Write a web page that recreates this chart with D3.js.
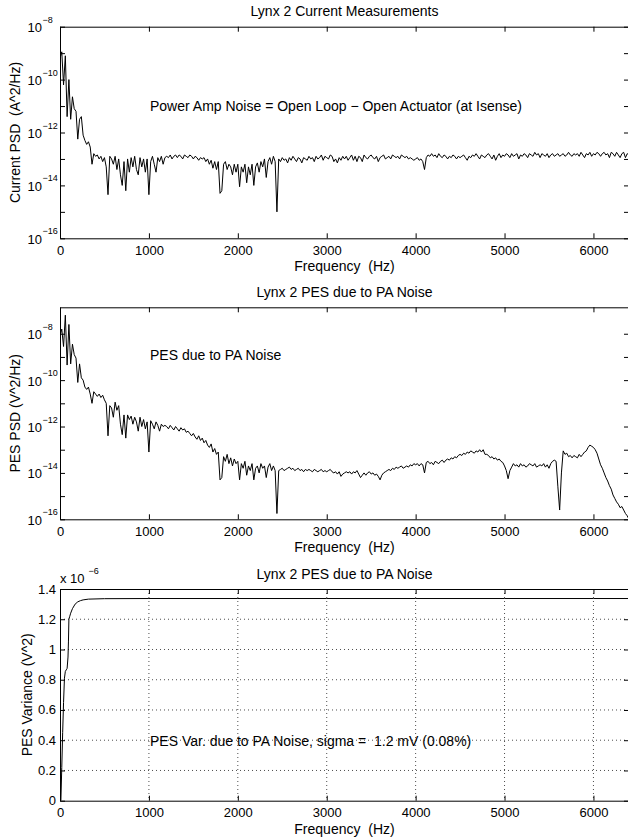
<!DOCTYPE html>
<html>
<head>
<meta charset="utf-8">
<script src="https://cdnjs.cloudflare.com/ajax/libs/d3/7.8.5/d3.min.js"></script>
<style>
  body { margin: 0; background: #fff; }
  svg text { font-family: "Liberation Sans", Arial, sans-serif; fill: #000; }
  .tick text { font-size: 13px; }
  .lbl { font-size: 14px; white-space: pre; }
  .sup { font-size: 9px; }
  .domain, .tick line { stroke: #000; }
</style>
</head>
<body>
<div id="chart"></div>
<script>
// ---- data ----
// PSD traces sampled every 20 Hz from 0 to 6400 Hz, stored as log10 of the value
var freqStep = 20;

// Current PSD (A^2/Hz), log10
var currentPsdExp = [
  -9.2, -8.95, -10.2, -9.1, -11.4, -10.0, -11.5, -10.65, -11.1, -11.2, -12.25, -11.5, -11.4, -12.1, -12.3, -12.45, -12.35, -12.55, -13.2, -12.8,
  -12.9, -12.85, -13.0, -12.9, -13.1, -12.95, -13.3, -14.35, -12.9, -13.0, -13.2, -12.9, -13.4, -13.0, -13.6, -14.0, -13.1, -14.2, -13.0, -13.5,
  -12.95, -13.3, -12.9, -13.4, -13.6, -12.95, -13.3, -13.0, -13.5, -13.0, -14.35, -13.1, -12.9, -13.2, -13.5, -12.95, -13.1, -12.9, -13.2, -12.95,
  -12.9, -12.95, -12.85, -13.0, -12.9, -12.85, -12.95, -12.85, -12.9, -13.0, -12.85, -12.9, -12.95, -12.85, -12.9, -13.0, -12.9, -12.95, -13.05, -12.95,
  -13.0, -12.95, -13.1, -13.0, -13.2, -13.05, -13.35, -13.1, -13.4, -13.1, -14.3, -14.2, -13.2, -13.1, -13.4, -13.2, -13.3, -13.6, -13.2, -13.5,
  -13.2, -14.05, -13.3, -13.5, -13.2, -13.9, -13.3, -13.6, -13.2, -14.0, -13.3, -13.15, -13.5, -13.1, -13.3, -13.0, -13.7, -13.1, -12.95, -13.2,
  -12.9, -13.1, -15.0, -13.0, -13.1, -12.95, -13.05, -13.0, -13.15, -12.95, -13.05, -12.9, -13.0, -13.1, -12.95, -13.0, -13.15, -12.95, -13.0, -13.05,
  -12.9, -13.0, -12.95, -13.1, -12.9, -13.0, -12.95, -12.85, -13.05, -12.9, -12.95, -13.0, -12.85, -12.9, -13.1, -13.0, -13.15, -12.95, -13.05, -12.9,
  -13.0, -12.9, -13.05, -12.95, -12.85, -13.05, -12.9, -13.1, -12.9, -12.95, -13.1, -12.85, -12.95, -13.0, -12.9, -12.85, -12.95, -13.0, -12.9, -13.1,
  -12.95, -12.9, -12.85, -13.0, -12.95, -12.9, -13.0, -12.85, -12.9, -12.95, -12.9, -13.0, -12.85, -12.9, -12.95, -12.9, -13.0, -12.95, -13.0, -13.05,
  -13.0, -12.95, -13.05, -13.0, -13.1, -13.4, -12.95, -12.85, -12.9, -12.8, -12.9, -12.85, -12.95, -12.8, -12.9, -12.95, -12.85, -12.9, -13.0, -12.9,
  -12.95, -12.85, -12.9, -13.0, -12.9, -12.95, -12.9, -12.85, -12.95, -13.05, -12.9, -12.95, -12.85, -12.9, -12.8, -12.9, -13.0, -12.85, -12.9, -12.95,
  -12.85, -12.8, -12.9, -13.0, -12.85, -13.05, -12.9, -12.8, -12.95, -12.85, -12.9, -12.8, -12.85, -12.95, -12.8, -12.9, -12.85, -12.8, -13.0, -12.85,
  -12.9, -12.8, -12.85, -12.95, -12.8, -12.85, -12.9, -12.75, -12.85, -12.8, -12.95, -12.8, -12.85, -12.9, -12.8, -12.95, -12.85, -12.8, -12.9, -12.85,
  -12.8, -12.9, -12.85, -12.8, -12.9, -12.85, -12.75, -12.85, -12.9, -12.8, -12.85, -12.8, -12.9, -12.75, -12.85, -12.95, -12.8, -12.85, -12.75, -12.9,
  -12.8, -12.85, -12.75, -12.8, -12.9, -12.8, -12.75, -12.85, -12.8, -12.95, -12.75, -12.8, -12.9, -12.75, -12.85, -12.95, -12.8, -12.75, -12.95, -12.8,
  -12.85
];

// PES PSD (V^2/Hz), log10
var pesPsdExp = [
  -8.1, -7.8, -8.55, -7.2, -9.35, -7.6, -9.3, -8.45, -8.9, -9.05, -10.1, -9.3, -9.9, -10.0, -10.3, -10.4, -10.3, -10.6, -11.0, -10.5,
  -10.6, -10.7, -10.6, -10.75, -10.65, -10.85, -11.0, -12.4, -11.1, -11.2, -11.6, -10.95, -11.3, -11.1, -11.9, -12.35, -11.5, -12.5, -11.5, -11.7,
  -11.55, -11.9, -11.6, -11.8, -12.2, -11.6, -12.0, -11.7, -12.1, -11.8, -13.1, -11.75, -11.9, -12.1, -11.8, -11.95, -12.2, -11.9, -12.0, -11.95,
  -12.0, -12.1, -11.95, -12.05, -12.15, -12.0, -12.1, -12.2, -12.05, -12.15, -12.1, -12.25, -12.2, -12.3, -12.4, -12.3, -12.45, -12.55, -12.4, -12.6,
  -12.5, -12.7, -12.6, -12.8, -12.9, -12.75, -13.1, -12.95, -13.2, -13.1, -14.3, -14.2, -13.3, -13.5, -13.2, -13.6, -13.35, -13.7, -13.4, -13.6,
  -13.5, -14.3, -13.6, -13.8, -13.5, -14.1, -13.7, -13.9, -13.6, -14.3, -13.8, -13.7, -14.0, -13.6, -13.8, -13.7, -14.2, -13.75, -13.6, -13.9,
  -13.7, -13.9, -15.75, -13.9, -13.85, -13.8, -13.9, -13.85, -13.8, -13.75, -13.85, -13.8, -13.9, -13.85, -13.8, -13.9, -13.85, -13.95, -13.85, -13.9,
  -13.85, -13.9, -13.95, -13.85, -13.9, -13.95, -13.9, -13.85, -13.95, -13.9, -13.95, -13.9, -13.85, -13.95, -14.0, -13.95, -14.05, -13.95, -14.15, -14.05,
  -14.0, -13.95, -14.0, -13.95, -14.05, -13.95, -14.0, -13.9, -14.05, -14.2, -14.1, -14.0, -14.1, -14.0, -13.95, -14.05, -14.0, -14.1, -14.05, -14.15,
  -14.3, -14.1, -14.0, -13.95, -13.9, -13.85, -13.9, -13.8, -13.85, -13.75, -13.8, -13.75, -13.7, -13.8, -13.75, -13.7, -13.75, -13.65, -13.7, -13.6,
  -13.65, -13.6, -13.7, -13.6, -13.65, -14.0, -13.55, -13.5, -13.6, -13.55, -13.65, -13.5, -13.55, -13.6, -13.5, -13.45, -13.55, -13.45, -13.4, -13.45,
  -13.35, -13.4, -13.3, -13.35, -13.25, -13.2, -13.25, -13.15, -13.2, -13.1, -13.15, -13.05, -13.1, -13.15, -13.05, -13.1, -13.0, -13.1, -13.0, -13.2,
  -13.2, -13.25, -13.35, -13.3, -13.4, -13.35, -13.45, -13.4, -13.5, -13.55, -13.7, -13.9, -14.25, -13.9, -13.75, -13.6, -13.7, -13.65, -13.75, -13.6,
  -13.7, -13.65, -13.75, -13.7, -13.6, -13.65, -13.7, -13.6, -13.75, -13.7, -13.65, -13.7, -13.6, -13.75, -13.65, -13.8, -13.6, -13.5, -13.45, -13.5,
  -14.6, -15.6, -14.0, -13.05, -13.2, -13.15, -13.3, -13.25, -13.35, -13.25, -13.3, -13.35, -13.2, -13.3, -13.2, -13.1, -13.05, -12.9, -12.8, -12.85,
  -12.9, -13.0, -13.15, -13.4, -13.65, -13.8, -14.0, -14.2, -14.35, -14.55, -14.7, -14.95, -15.1, -15.25, -15.35, -15.5, -15.45, -15.6, -15.75, -15.85,
  -16.0
];

// cumulative PES variance, in units of 1e-6 V^2
var varFreq = [0, 10, 20, 30, 40, 50, 60, 70, 80, 90, 95, 100, 110, 120, 140, 170, 200, 230, 260, 320, 500, 1000, 2000, 3000, 4000, 5000, 6000, 6400];
var varValue = [0, 0, 0.22, 0.45, 0.65, 0.81, 0.855, 0.865, 0.875, 0.95, 1.05, 1.2, 1.22, 1.24, 1.27, 1.3, 1.315, 1.323, 1.328, 1.333, 1.336, 1.337, 1.337, 1.337, 1.337, 1.337, 1.337, 1.337];

var freqTicks = [0, 1000, 2000, 3000, 4000, 5000, 6000];
var decadeTicks = [-16, -15, -14, -13, -12, -11, -10, -9, -8];
var varTicks = [0, 0.2, 0.4, 0.6, 0.8, 1.0, 1.2, 1.4];
var varTickLabels = ["0", "0.2", "0.4", "0.6", "0.8", "1", "1.2", "1.4"];

var titles = ["Lynx 2 Current Measurements", "Lynx 2 PES due to PA Noise", "Lynx 2 PES due to PA Noise"];
var yLabels = ["Current PSD  (A^2/Hz)", "PES PSD (V^2/Hz)", "PES Variance (V^2)"];
var notes = ["Power Amp Noise = Open Loop \u2212 Open Actuator (at Isense)", "PES due to PA Noise",
  "PES Var. due to PA Noise, sigma =  1.2 mV (0.08%)"];

// ---- layout ----
var W = 628, H = 839;
var left = 60, right = 629;

var svg = d3.select("#chart")
  .append("svg")
  .attr("width", W)
  .attr("height", H);

var x = d3.scaleLinear()
  .domain([0, 6400])
  .range([left, right]);

var freqs = currentPsdExp.map(function(d, i) { return i * freqStep; });

function frame(g, y, top, bottom, yTicks) {
  g.append("g")
    .attr("transform", "translate(0," + bottom + ")")
    .call(d3.axisBottom(x).tickValues(freqTicks).tickSize(-5).tickSizeOuter(0).tickPadding(7).tickFormat(d3.format("d")));
  g.append("g")
    .attr("transform", "translate(0," + top + ")")
    .call(d3.axisTop(x).tickValues(freqTicks).tickSize(-5).tickSizeOuter(0).tickFormat(""));
  g.append("g")
    .attr("transform", "translate(" + left + ",0)")
    .call(d3.axisLeft(y).tickValues(yTicks).tickSize(-5).tickSizeOuter(0).tickFormat(""));
  g.append("g")
    .attr("transform", "translate(" + right + ",0)")
    .call(d3.axisRight(y).tickValues(yTicks).tickSize(-5).tickSizeOuter(0).tickFormat(""));
}

function texts(g, i, top, bottom, yLabelX) {
  g.append("text")
    .attr("class", "lbl")
    .attr("x", (left + right) / 2)
    .attr("y", top - 10.5)
    .attr("text-anchor", "middle")
    .text(titles[i]);
  g.append("text")
    .attr("class", "lbl")
    .attr("x", (left + right) / 2)
    .attr("y", bottom + 33)
    .attr("text-anchor", "middle")
    .text("Frequency  (Hz)");
  g.append("text")
    .attr("class", "lbl")
    .attr("transform", "translate(" + yLabelX + "," + ((top + bottom) / 2) + ") rotate(-90)")
    .attr("text-anchor", "middle")
    .text(yLabels[i]);
}

function clip(g, id, top, bottom) {
  g.append("clipPath")
    .attr("id", id)
    .append("rect")
    .attr("x", left)
    .attr("y", top)
    .attr("width", right - left)
    .attr("height", bottom - top);
}

// Log PSD panel
function psdPanel(i, top, bottom, yTop, exps, noteY, yLabelX) {
  var g = svg.append("g");
  var y = d3.scaleLog()
    .domain([1e-16, yTop])
    .range([bottom, top]);

  clip(g, "clip" + i, top, bottom);

  var line = d3.line()
    .x(function(d) { return x(d[0]); })
    .y(function(d) { return y(d[1]); });

  g.append("path")
    .datum(freqs.map(function(f, k) { return [f, Math.pow(10, exps[k])]; }))
    .attr("clip-path", "url(#clip" + i + ")")
    .attr("fill", "none")
    .attr("stroke", "#000")
    .attr("stroke-width", 1)
    .attr("stroke-linejoin", "round")
    .attr("d", line);

  frame(g, y, top, bottom, decadeTicks.map(function(e) { return Math.pow(10, e); }));

  // 10^n labels on even decades
  var lab = g.selectAll(".ylab")
    .data(decadeTicks.filter(function(e) { return e % 2 == 0; }))
    .enter().append("g")
    .attr("class", "ylab");
  lab.append("text")
    .attr("class", "lbl")
    .attr("x", left - 18)
    .attr("y", function(e) { return y(Math.pow(10, e)) + 5.5; })
    .attr("text-anchor", "end")
    .style("font-size", "13px")
    .text("10");
  lab.append("text")
    .attr("class", "sup")
    .attr("x", left - 17.5)
    .attr("y", function(e) { return y(Math.pow(10, e)) - 4; })
    .text(function(e) { return "\u2212" + Math.abs(e); });

  g.append("text")
    .attr("class", "lbl")
    .attr("x", 150)
    .attr("y", noteY)
    .text(notes[i]);

  texts(g, i, top, bottom, yLabelX);
}

psdPanel(0, 26.7, 238.3, 1e-8, currentPsdExp, 111, 20);
psdPanel(1, 307.3, 519.3, Math.pow(10, -6.86), pesPsdExp, 360, 20);

// Variance panel
(function() {
  var top = 589, bottom = 800.7;
  var g = svg.append("g");
  var y = d3.scaleLinear()
    .domain([0, 1.4])
    .range([bottom, top]);

  clip(g, "clip2", top, bottom);

  // dotted grid
  g.selectAll(".vgrid")
    .data(freqTicks.slice(1))
    .enter().append("line")
    .attr("x1", function(d) { return x(d); })
    .attr("x2", function(d) { return x(d); })
    .attr("y1", top)
    .attr("y2", bottom)
    .attr("stroke", "#000")
    .attr("stroke-width", 0.7)
    .attr("stroke-dasharray", "1,3");
  g.selectAll(".hgrid")
    .data(varTicks.slice(1, -1))
    .enter().append("line")
    .attr("x1", left)
    .attr("x2", right)
    .attr("y1", function(d) { return y(d); })
    .attr("y2", function(d) { return y(d); })
    .attr("stroke", "#000")
    .attr("stroke-width", 0.7)
    .attr("stroke-dasharray", "1,3");

  var line = d3.line()
    .x(function(d, k) { return x(varFreq[k]); })
    .y(function(d) { return y(d); });

  g.append("path")
    .datum(varValue)
    .attr("clip-path", "url(#clip2)")
    .attr("fill", "none")
    .attr("stroke", "#000")
    .attr("stroke-width", 1)
    .attr("d", line);

  frame(g, y, top, bottom, varTicks);

  g.selectAll(".ylab")
    .data(varTicks)
    .enter().append("text")
    .attr("class", "lbl")
    .style("font-size", "13px")
    .attr("x", left - 4)
    .attr("y", function(d) { return y(d) + 4.5; })
    .attr("text-anchor", "end")
    .text(function(d, k) { return varTickLabels[k]; });

  // exponent note above the axis
  g.append("text")
    .attr("class", "lbl")
    .style("font-size", "13px")
    .attr("x", left)
    .attr("y", top - 6)
    .text("x 10");
  g.append("text")
    .attr("class", "sup")
    .attr("x", left + 28.5)
    .attr("y", top - 15)
    .text("\u22126");

  g.append("text")
    .attr("class", "lbl")
    .attr("x", 150)
    .attr("y", 746)
    .text(notes[2]);

  texts(g, 2, top, bottom, 32);
})();
</script>
</body>
</html>
